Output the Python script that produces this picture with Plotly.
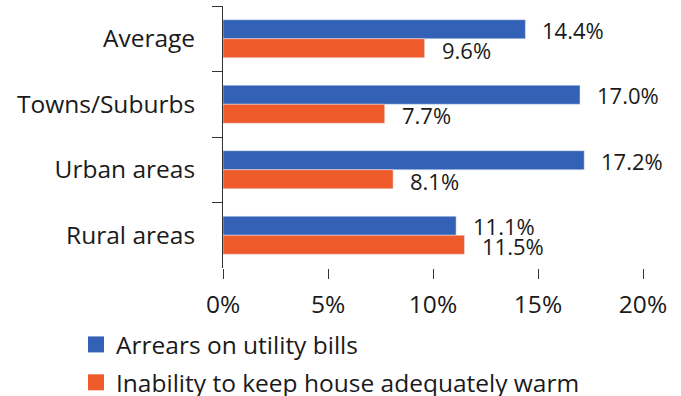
import plotly.graph_objects as go

categories = ["Average", "Towns/Suburbs", "Urban areas", "Rural areas"]
arrears = [14.4, 17.0, 17.2, 11.1]
inability = [9.6, 7.7, 8.1, 11.5]
series_names = ["Arrears on utility bills", "Inability to keep house adequately warm"]
x_ticks = [0, 5, 10, 15, 20]
x_tick_labels = ["0%", "5%", "10%", "15%", "20%"]

BLUE = "#3361B5"
ORANGE = "#EF5A2B"
FONT = "Open Sans"
TXT = "#1a1a1a"
FS = 24.5
FS_LBL = 22

fig = go.Figure()
fig.add_trace(go.Bar(y=categories, x=arrears, orientation="h", name=series_names[0],
                     marker=dict(color=BLUE), showlegend=False))
fig.add_trace(go.Bar(y=categories, x=inability, orientation="h", name=series_names[1],
                     marker=dict(color=ORANGE), showlegend=False))
# legend entries with larger square swatches
for name, col, grp in [(series_names[0], BLUE, "a"), (series_names[1], ORANGE, "b")]:
    fig.add_trace(go.Scatter(x=[None], y=[None], mode="markers", name=name,
                             marker=dict(symbol="square", size=16, color=col),
                             legendgroup=grp, showlegend=True, hoverinfo="skip"))

annotations = []
for cat, v in zip(categories, arrears):
    annotations.append(dict(x=v, y=cat, text=f"{v:.1f}%", showarrow=False, xanchor="left",
                            yanchor="middle", xshift=15, yshift=9,
                            font=dict(family=FONT, size=FS_LBL, color=TXT)))
for cat, v in zip(categories, inability):
    annotations.append(dict(x=v, y=cat, text=f"{v:.1f}%", showarrow=False, xanchor="left",
                            yanchor="middle", xshift=15, yshift=-11,
                            font=dict(family=FONT, size=FS_LBL, color=TXT)))

fig.update_layout(
    width=681, height=396,
    margin=dict(l=223, r=38, t=6, b=128, autoexpand=False),
    paper_bgcolor="white", plot_bgcolor="white",
    barmode="group", bargap=0.42, bargroupgap=0,
    font=dict(family=FONT, size=FS, color=TXT),
    annotations=annotations,
    showlegend=True,
    legend=dict(orientation="v",
                x=(76 - 223) / 420, y=(268 - 322) / 262, xanchor="left", yanchor="top",
                traceorder="grouped", tracegroupgap=3, itemsizing="trace",
                font=dict(family=FONT, size=FS, color=TXT),
                itemwidth=30, bgcolor="rgba(0,0,0,0)"),
    xaxis=dict(range=[0, 20], tickvals=x_ticks, ticktext=x_tick_labels,
               showgrid=False, zeroline=False, showline=False, automargin=False,
               ticks="outside", ticklen=10, tickcolor="#333", tickwidth=1,
               tickangle=0, ticklabelstandoff=5,
               tickfont=dict(family=FONT, size=FS, color=TXT)),
    yaxis=dict(autorange="reversed", showgrid=False, zeroline=False, automargin=False,
               showline=True, linecolor="#333", linewidth=1,
               ticks="outside", ticklen=10, tickcolor="#333", tickwidth=1,
               tickson="boundaries", ticklabelstandoff=22,
               tickfont=dict(family=FONT, size=FS, color=TXT)),
)

fig.write_html("out.html", config={"displayModeBar": False},
               post_script="document.body.style.margin='0';")
